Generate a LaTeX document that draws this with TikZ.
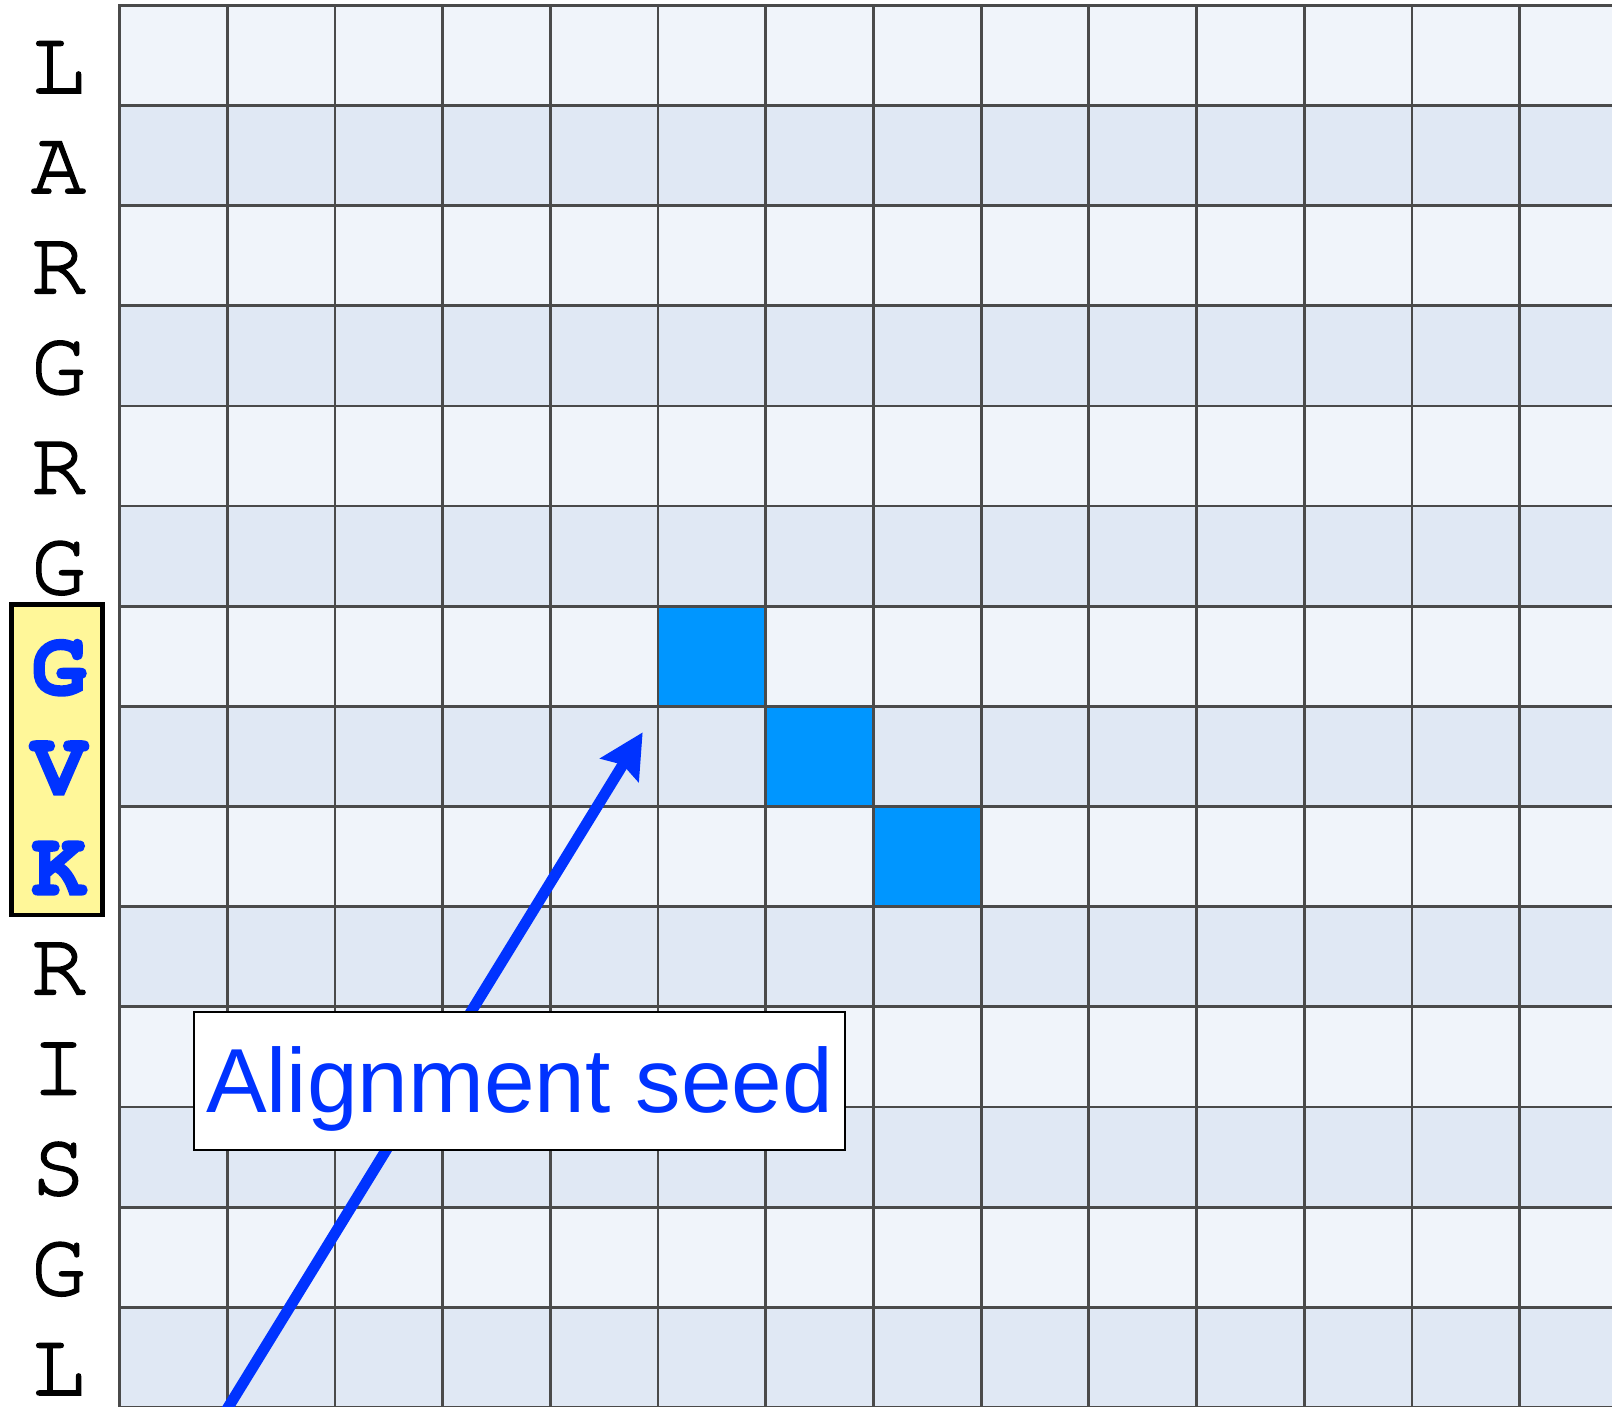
\documentclass[tikz,border=0pt]{standalone}
\usepackage{fontspec}
\setmainfont{Liberation Sans}
\newfontfamily\courreg{texgyrecursor-regular.otf}[FakeBold=2]
\newfontfamily\courbold{texgyrecursor-bold.otf}[FakeBold=2.5]
\usetikzlibrary{arrows.meta}
\definecolor{rowA}{HTML}{F0F4FA}
\definecolor{rowB}{HTML}{E0E8F4}
\definecolor{gridc}{HTML}{4A4A4A}
\definecolor{seedcell}{HTML}{0096FF}
\definecolor{seedblue}{HTML}{0033FF}
\definecolor{ybox}{HTML}{FFF799}
\tikzset{
  gridline/.style={draw=gridc, line width=2.8pt, line cap=rect},
  rowlab/.style={font=\courreg\fontsize{91}{91}\selectfont, text=black, inner sep=0pt, text height=53pt, text depth=0pt},
  seedlab/.style={font=\courbold\fontsize{91}{91}\selectfont, text=seedblue, inner sep=0pt, text height=53pt, text depth=0pt},
  seedarrow/.style={draw=seedblue, line width=11pt, -{Stealth[length=44pt, width=44pt, inset=6pt]}},
  callout/.style={draw=black, line width=2pt, fill=white, inner sep=0pt,
    minimum width=650.8pt, minimum height=138.8pt, text height=70pt, text depth=7.2pt,
    font=\fontsize{91}{91}\selectfont, text=seedblue}
}
\begin{document}
\begin{tikzpicture}[x=1pt,y=-1pt]
\useasboundingbox (0,0) rectangle (1612,1406);
\clip (0,0) rectangle (1612,1406);
\def\gx{119.5}\def\gy{5.3}\def\cw{107.7}\def\rh{100.15}
% row bands
\foreach \r in {0,...,13}{
  \pgfmathsetmacro{\rt}{\gy+\r*\rh}
  \pgfmathsetmacro{\rb}{\gy+(\r+1)*\rh}
  \pgfmathparse{mod(\r,2)==0 ? "rowA" : "rowB"}
  \fill[\pgfmathresult] (\gx,\rt) rectangle (1620,\rb);
}
% seed cells
\foreach \c/\r in {5/6,6/7,7/8}{
  \fill[seedcell] ({\gx+\c*\cw},{\gy+\r*\rh}) rectangle ({\gx+(\c+1)*\cw},{\gy+(\r+1)*\rh});
}
% grid lines
\foreach \c in {0,...,14}{
  \draw[gridline] ({\gx+\c*\cw},\gy) -- ({\gx+\c*\cw},1420);
}
\foreach \r in {0,...,14}{
  \draw[gridline] (\gx,{\gy+\r*\rh}) -- (1620,{\gy+\r*\rh});
}
% yellow box behind the seed letters
\draw[draw=black, line width=4.7pt, fill=ybox] (11.35,604.35) rectangle (102.65,914.95);
% row letters
\foreach \l [count=\i from 0] in {L,A,R,G,R,G}{
  \node[rowlab, anchor=base] (lab\i) at (58.5,{\gy+(\i+0.5)*\rh+37.5}) {\l};
}
\foreach \l [count=\i from 6] in {G,V,K}{
  \node[seedlab, anchor=base] (lab\i) at (59,{\gy+(\i+0.5)*\rh+38}) {\l};
}
\foreach \l [count=\i from 9] in {R,I,S,G,L}{
  \node[rowlab, anchor=base] (lab\i) at (58.5,{\gy+(\i+0.5)*\rh+37.5}) {\l};
}
% arrow
\coordinate (arrowtail) at (216.7,1426);
\coordinate (arrowtip) at (642.7,732.3);
\draw[seedarrow] (arrowtail) -- (arrowtip);
% callout
\node[callout] (seedlabel) at (519.7,1081) {Alignment seed};
\end{tikzpicture}
\end{document}
